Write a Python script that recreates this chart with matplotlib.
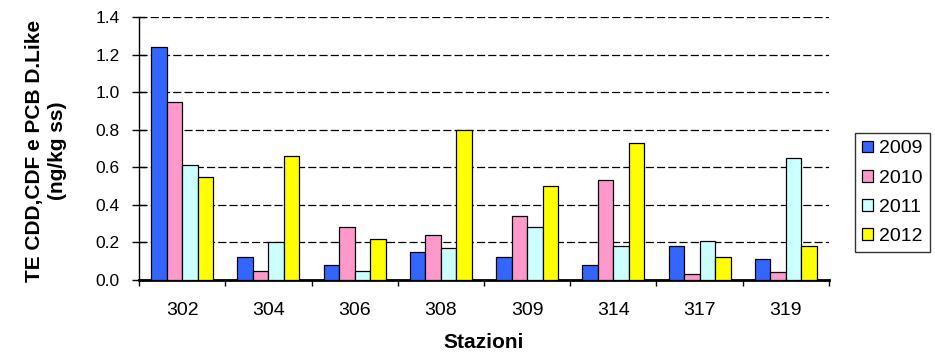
import numpy as np
import matplotlib.pyplot as plt

plt.rcParams['font.family'] = ['Liberation Sans', 'DejaVu Sans']

stazioni = ['302', '304', '306', '308', '309', '314', '317', '319']
anni = ['2009', '2010', '2011', '2012']
v2009 = [1.24, 0.12, 0.08, 0.15, 0.12, 0.08, 0.18, 0.11]
v2010 = [0.95, 0.05, 0.28, 0.24, 0.34, 0.53, 0.03, 0.04]
v2011 = [0.61, 0.20, 0.05, 0.17, 0.28, 0.18, 0.21, 0.65]
v2012 = [0.55, 0.66, 0.22, 0.80, 0.50, 0.73, 0.12, 0.18]
colori = ['#3366FF', '#FF99CC', '#CCFFFF', '#FFFF00']

serie = [v2009, v2010, v2011, v2012]

fig = plt.figure(figsize=(9.35, 3.53), dpi=100)
ax = fig.add_axes([0.1487, 0.2068, 0.8866 - 0.1487, 0.9518 - 0.2068])

x = np.arange(len(stazioni))
w = 0.18
for i, (val, col, anno) in enumerate(zip(serie, colori, anni)):
    ax.bar(x + (i - 1.5) * w, val, w, color=col, edgecolor='black',
           linewidth=0.9, label=anno, zorder=3)

ax.set_xlim(-0.5, len(stazioni) - 0.5)
ax.set_ylim(0, 1.4)
ax.set_yticks(np.arange(0, 1.41, 0.2))
ax.set_yticklabels(['%.1f' % v for v in np.arange(0, 1.41, 0.2)], fontsize=12.5)

ax.set_xticks(x)
ax.set_xticklabels(stazioni, fontsize=14)
ax.tick_params(axis='x', which='major', length=0, pad=16)
ax.set_xticks(np.arange(-0.5, len(stazioni)), minor=True)
ax.tick_params(axis='x', which='minor', length=4, width=1, direction='out')
ax.tick_params(axis='y', length=10, width=1, direction='inout', pad=9)

ax.yaxis.grid(True, color='black', linestyle=(0, (6.5, 2.5)), linewidth=0.9, zorder=0)
ax.spines['top'].set_visible(False)
ax.spines['right'].set_visible(False)
ax.spines['bottom'].set_linewidth(2)
ax.spines['left'].set_linewidth(1)

ax.set_xlabel('Stazioni', fontsize=15, fontweight='bold')
ax.xaxis.set_label_coords(0.5, -0.2)
ax.set_ylabel('TE CDD,CDF e PCB D.Like\n(ng/kg ss)', fontsize=15,
              fontweight='bold', linespacing=1.3)
ax.yaxis.set_label_coords(-0.104, 0.49)

leg = fig.legend(loc='upper left', bbox_to_anchor=(0.9145, 0.623),
                 fontsize=14, frameon=True, fancybox=False,
                 handlelength=0.55, handleheight=0.55, handletextpad=0.3,
                 labelspacing=0.62, borderpad=0.38, borderaxespad=0)
leg.get_frame().set_edgecolor('black')
leg.get_frame().set_linewidth(1)

fig.savefig('out.png', dpi=100)
